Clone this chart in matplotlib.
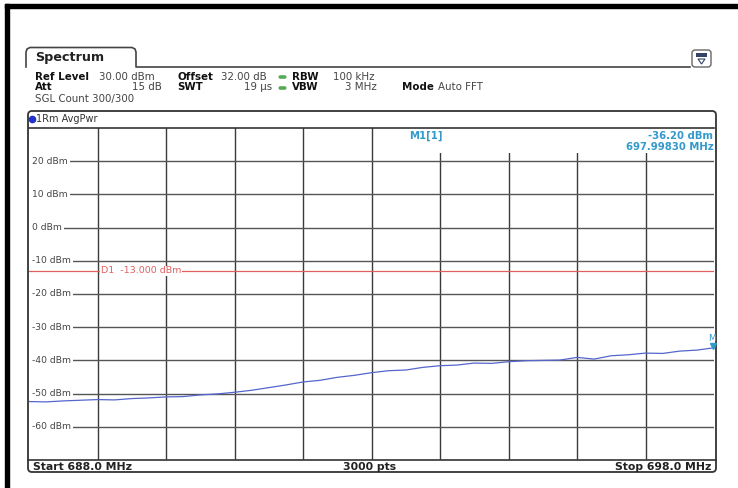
import matplotlib
matplotlib.use("Agg")
import matplotlib.pyplot as plt
from matplotlib.patches import FancyBboxPatch, Rectangle, Polygon

plt.rcParams['font.family'] = ['DejaVu Sans']

# trace data (every 0.25 MHz)
freq_mhz = [688.00, 688.25, 688.50, 688.75, 689.00, 689.25, 689.50, 689.75,
            690.00, 690.25, 690.50, 690.75, 691.00, 691.25, 691.50, 691.75,
            692.00, 692.25, 692.50, 692.75, 693.00, 693.25, 693.50, 693.75,
            694.00, 694.25, 694.50, 694.75, 695.00, 695.25, 695.50, 695.75,
            696.00, 696.25, 696.50, 696.75, 697.00, 697.25, 697.50, 697.75,
            698.00]
level_dbm = [-52.4, -52.5, -52.2, -52.0, -51.8, -51.9, -51.5, -51.3,
             -51.0, -50.9, -50.4, -50.1, -49.6, -49.0, -48.2, -47.4,
             -46.5, -46.0, -45.1, -44.5, -43.7, -43.1, -42.9, -42.1,
             -41.6, -41.4, -40.8, -40.9, -40.4, -40.1, -40.0, -39.9,
             -39.1, -39.6, -38.6, -38.3, -37.8, -37.9, -37.2, -36.9,
             -36.2]

y_ticks = [20, 10, 0, -10, -20, -30, -40, -50, -60]
x_grid = [689, 690, 691, 692, 693, 694, 695, 696, 697]
limit_dbm = -13.0
marker_f, marker_l = 698.0, -36.2

W, H = 738, 488
fig = plt.figure(figsize=(W / 100, H / 100), dpi=100)

# overlay in pixel coords for the instrument frame
bg = fig.add_axes([0, 0, 1, 1])
bg.set_xlim(0, W)
bg.set_ylim(H, 0)
bg.axis('off')

# thick outer border (top + left)
bg.add_patch(Rectangle((5, 4), W - 5, 3.5, color='black'))
bg.add_patch(Rectangle((5, 4), 4, H - 4, color='black'))

# Spectrum tab, open at the bottom
tab_x = [26, 26, 27, 30, 132, 135, 136, 136, 690]
tab_y = [67, 52, 49, 47.5, 47.5, 49, 52, 67, 67]
bg.plot(tab_x, tab_y, color='#444444', lw=1.2, solid_joinstyle='round')
bg.text(35, 57.5, "Spectrum", fontsize=9.2, fontweight='bold', va='center', color='#222222')

# icon
bg.add_patch(FancyBboxPatch((692, 50), 19, 17, boxstyle="round,pad=0,rounding_size=3",
                            fc='white', ec='#666666', lw=1))
bg.add_patch(Rectangle((696, 53), 11, 4, fc='#334466', ec='none'))
bg.add_patch(Polygon([[698, 59], [705, 59], [701.5, 64]], closed=True, fc='white', ec='#334466', lw=0.8))

# header
fs = 7.4
lab = '#111111'
val = '#444444'
bg.text(35, 76.5, "Ref Level", fontsize=fs, fontweight='bold', color=lab, va='center')
bg.text(99, 76.5, "30.00 dBm", fontsize=fs, color=val, va='center')
bg.text(177, 76.5, "Offset", fontsize=fs, fontweight='bold', color=lab, va='center')
bg.text(221, 76.5, "32.00 dB", fontsize=fs, color=val, va='center')
bg.text(292, 76.5, "RBW", fontsize=fs, fontweight='bold', color=lab, va='center')
bg.text(333, 76.5, "100 kHz", fontsize=fs, color=val, va='center')
bg.text(35, 87.5, "Att", fontsize=fs, fontweight='bold', color=lab, va='center')
bg.text(162, 87.5, "15 dB", fontsize=fs, color=val, va='center', ha='right')
bg.text(177, 87.5, "SWT", fontsize=fs, fontweight='bold', color=lab, va='center')
bg.text(272, 87.5, "19 µs", fontsize=fs, color=val, va='center', ha='right')
bg.text(292, 87.5, "VBW", fontsize=fs, fontweight='bold', color=lab, va='center')
bg.text(377, 87.5, "3 MHz", fontsize=fs, color=val, va='center', ha='right')
bg.text(402, 87.5, "Mode", fontsize=fs, fontweight='bold', color=lab, va='center')
bg.text(438, 87.5, "Auto FFT", fontsize=fs, color=val, va='center')
bg.text(35, 99, "SGL Count 300/300", fontsize=fs, color=val, va='center')
for yy in (77, 88):
    bg.add_patch(FancyBboxPatch((278.5, yy - 1.8), 8, 3.6, boxstyle="round,pad=0,rounding_size=1.8",
                                fc='#55aa55', ec='none'))

# diagram frame
bg.add_patch(FancyBboxPatch((28, 111), 688, 361, boxstyle="round,pad=0,rounding_size=4",
                            fc='none', ec='#333333', lw=1.3))
bg.plot([28, 716], [460, 460], color='#333333', lw=1.2)
bg.plot([31.5], [119], 'o', color='#2233cc', ms=4.5)
bg.text(36, 119, "1Rm AvgPwr", fontsize=7.0, color='#333333', va='center')

# footer
ffs = 7.8
bg.text(33, 466.5, "Start 688.0 MHz", fontsize=ffs, fontweight='bold', color='#222222', va='center')
bg.text(370, 466.5, "3000 pts", fontsize=ffs, fontweight='bold', color='#222222', va='center', ha='center')
bg.text(711, 466.5, "Stop 698.0 MHz", fontsize=ffs, fontweight='bold', color='#222222', va='center', ha='right')

# plot axes
ax = fig.add_axes([29 / W, 1 - 460 / H, (714 - 29) / W, (460 - 128) / H])
ax.set_xlim(688, 698)
ax.set_ylim(-70, 30)
ax.set_xticks([])
ax.set_yticks([])
for s in ax.spines.values():
    s.set_visible(False)
ax.patch.set_alpha(0)

for xg in x_grid:
    ax.axvline(xg, color='#3a3a3a', lw=1, zorder=1)
for yt in y_ticks:
    ax.axhline(yt, color='#555555', lw=1, zorder=1)
    ax.text(688.04, yt, f"{yt} dBm", fontsize=6.6, color='#444444', va='center', ha='left',
            bbox=dict(fc='white', ec='none', boxstyle='square,pad=0.25'), zorder=3)

# white panel behind the marker readout, then the header separator on top
ax.add_patch(Rectangle((693.4, 22.6), 4.6, 7.3, fc='white', ec='none', zorder=1.5))
ax.axhline(30, color='#333333', lw=1.2, zorder=2, clip_on=False)

ax.axhline(limit_dbm, color='#e06060', lw=0.9, zorder=2)
ax.text(689.05, limit_dbm, "D1  -13.000 dBm", fontsize=6.8, color='#e06060', va='center',
        bbox=dict(fc='white', ec='none', pad=0.4), zorder=3)

ax.plot(freq_mhz, level_dbm, color='#5566cc', lw=0.9, zorder=4)

# marker
mc = '#3399cc'
ax.plot([marker_f - 0.02], [marker_l + 0.6], marker='v', color=mc, ms=4, clip_on=False, zorder=5)
ax.text(marker_f - 0.08, marker_l + 1.5, "M", fontsize=6.5, color=mc, va='bottom', ha='left', zorder=5)
ax.text(693.8, 27.5, "M1[1]", fontsize=7.3, fontweight='bold', color=mc, va='center', ha='center', zorder=3)
ax.text(697.99, 27.5, "-36.20 dBm", fontsize=7.3, fontweight='bold', color=mc, va='center', ha='right', zorder=3)
ax.text(697.99, 24.2, "697.99830 MHz", fontsize=7.3, fontweight='bold', color=mc, va='center', ha='right', zorder=3)

fig.savefig("out.png", dpi=100)
